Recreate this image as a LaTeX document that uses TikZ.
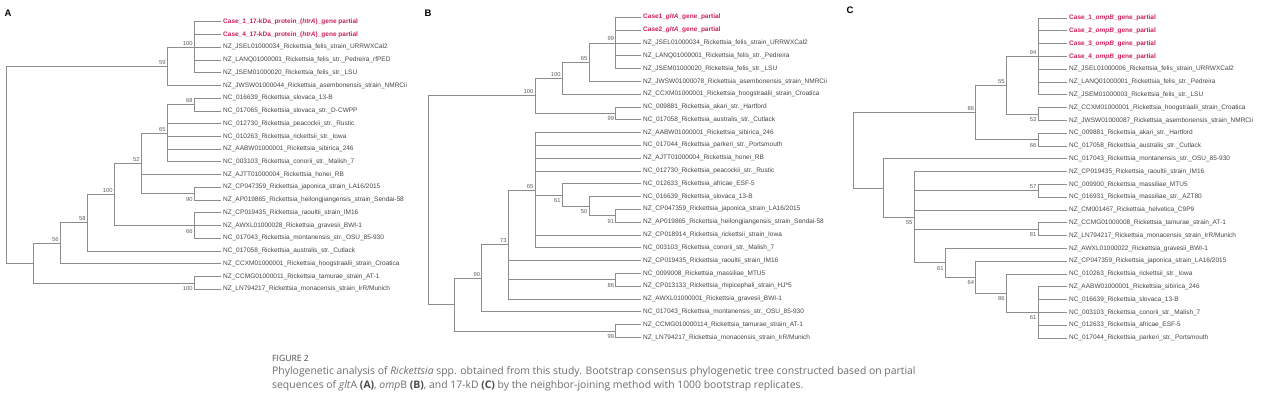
\documentclass[tikz,border=0pt]{standalone}
\usepackage{fontspec}
\setmainfont{Liberation Sans}
\newfontfamily\capfont{Open Sans}
\definecolor{casered}{RGB}{204,32,96}
\definecolor{linegray}{RGB}{140,140,140}
\definecolor{leafgray}{RGB}{70,70,70}
\definecolor{bsgray}{RGB}{95,95,95}
\definecolor{capgray}{RGB}{110,110,110}
\definecolor{capdark}{RGB}{75,75,75}
\tikzset{
  br/.style={draw=linegray, line width=0.7pt},
  leaf/.style={anchor=west, inner xsep=2.5pt, inner ysep=0pt, font=\fontsize{6.5}{7}\selectfont, text=leafgray},
  caseleaf/.style={leaf, font=\fontsize{6.5}{7}\selectfont\bfseries, text=casered},
  bs/.style={font=\fontsize{5.8}{6}\selectfont, text=bsgray, inner sep=0pt, anchor=base east, xshift=-1.5pt},
  bsa/.style={bs, yshift=2pt},
  bsb/.style={bs, yshift=-7.5pt},
  panel/.style={font=\fontsize{9.5}{10}\selectfont\bfseries, inner sep=0pt},
  captext/.style={anchor=base west, inner sep=0pt, font=\capfont\fontsize{10.4}{12}\selectfont, text=capgray}
}
\newcommand\tleaf[4]{\node[leaf] (#1) at (#2,#3) {#4};}
\newcommand\tcase[4]{\node[caseleaf] (#1) at (#2,#3) {#4};}
\newcommand\kids[2]{\foreach \kid in {#2}{\draw[br] (#1) |- (\kid.west);}}
\newcommand\bsA[3]{\node[bsa] (#1) at (#2) {#3};}
\newcommand\bsB[3]{\node[bsb] (#1) at (#2) {#3};}
\begin{document}
\begin{tikzpicture}[x=1pt,y=-1pt]
\fill[white] (0,0) rectangle (1268,403);
\useasboundingbox (0,0) rectangle (1268,403);

% ================= Panel A =================
\node[panel] (pA) at (8,13) {A};
\tcase{a1}{220.5}{21.7}{Case\_1\_17-kDa\_protein\_(\textit{htrA})\_gene partial}
\tcase{a2}{220.5}{34.44}{Case\_4\_17-kDa\_protein\_(\textit{htrA})\_gene partial}
\tleaf{a3}{220.5}{47.18}{NZ\_JSEL01000034\_Rickettsia\_felis\_strain\_URRWXCal2}
\tleaf{a4}{220.5}{59.92}{NZ\_LANQ01000001\_Rickettsia\_felis\_str.\_Pedreira\_rfPED}
\tleaf{a5}{220.5}{72.66}{NZ\_JSEM01000020\_Rickettsia\_felis\_str.\_LSU}
\tleaf{a6}{220.5}{85.4}{NZ\_JWSW01000044\_Rickettsia\_asembonensis\_strain\_NMRCii}
\tleaf{a7}{220.5}{98.14}{NC\_016639\_Rickettsia\_slovaca\_13-B}
\tleaf{a8}{220.5}{110.88}{NC\_017065\_Rickettsia\_slovaca\_str.\_D-CWPP}
\tleaf{a9}{220.5}{123.62}{NC\_012730\_Rickettsia\_peacockii\_str.\_Rustic}
\tleaf{a10}{220.5}{136.36}{NC\_010263\_Rickettsia\_rickettsii\_str.\_Iowa}
\tleaf{a11}{220.5}{149.1}{NZ\_AABW01000001\_Rickettsia\_sibirica\_246}
\tleaf{a12}{220.5}{161.84}{NC\_003103\_Rickettsia\_conorii\_str.\_Malish\_7}
\tleaf{a13}{220.5}{174.58}{NZ\_AJTT01000004\_Rickettsia\_honei\_RB}
\tleaf{a14}{220.5}{187.32}{NZ\_CP047359\_Rickettsia\_japonica\_strain\_LA16/2015}
\tleaf{a15}{220.5}{200.06}{NZ\_AP019865\_Rickettsia\_heilongjiangensis\_strain\_Sendai-58}
\tleaf{a16}{220.5}{212.8}{NZ\_CP019435\_Rickettsia\_raoultii\_strain\_IM16}
\tleaf{a17}{220.5}{225.54}{NZ\_AWXL01000028\_Rickettsia\_gravesii\_BWI-1}
\tleaf{a18}{220.5}{238.28}{NC\_017043\_Rickettsia\_montanensis\_str.\_OSU\_85-930}
\tleaf{a19}{220.5}{251.02}{NC\_017058\_Rickettsia\_australis\_str.\_Cutlack}
\tleaf{a20}{220.5}{263.76}{NZ\_CCXM01000001\_Rickettsia\_hoogstraalii\_strain\_Croatica}
\tleaf{a21}{220.5}{276.5}{NZ\_CCMG01000011\_Rickettsia\_tamurae\_strain\_AT-1}
\tleaf{a22}{220.5}{289.24}{NZ\_LN794217\_Rickettsia\_monacensis\_strain\_IrR/Munich}

\coordinate (aR) at (6.7,164.7);
\coordinate (aN59) at (167.3,66.29);
\coordinate (aN100a) at (194.3,47.18);
\coordinate (aN68) at (194.3,104.51);
\coordinate (aN65) at (167.3,133.18);
\coordinate (aN90) at (194.3,193.69);
\coordinate (aN52) at (141.3,163.43);
\coordinate (aN66) at (194.3,225.54);
\coordinate (aN100b) at (114.3,194.49);
\coordinate (aN58) at (87.3,222.75);
\coordinate (aN56) at (60.3,243.26);
\coordinate (aN100c) at (194.3,282.87);
\coordinate (aNX) at (33.3,263.06);

\kids{aR}{aN59,aNX}
\kids{aN59}{aN100a,a6}
\kids{aN100a}{a1,a2,a3,a4,a5}
\kids{aNX}{aN56,aN100c}
\kids{aN56}{aN58,a20}
\kids{aN58}{aN100b,a19}
\kids{aN100b}{aN52,aN66}
\kids{aN52}{aN65,a13,aN90}
\kids{aN65}{aN68,a9,a10,a11,a12}
\kids{aN68}{a7,a8}
\kids{aN90}{a14,a15}
\kids{aN66}{a16,a17,a18}
\kids{aN100c}{a21,a22}

\bsA{laA}{aN100a}{100}
\bsA{laB}{aN59}{59}
\bsA{laC}{aN68}{68}
\bsA{laD}{aN65}{65}
\bsA{laE}{aN52}{52}
\bsB{laF}{aN90}{90}
\bsA{laG}{aN100b}{100}
\bsB{laH}{aN66}{66}
\bsA{laI}{aN58}{58}
\bsA{laJ}{aN56}{56}
\bsB{laK}{aN100c}{100}

% ================= Panel B =================
\node[panel] (pB) at (428,13) {B};
\tcase{b1}{640.5}{17.3}{Case1\_\textit{gltA}\_gene\_partial}
\tcase{b2}{640.5}{30.1}{Case2\_\textit{gltA}\_gene\_partial}
\tleaf{b3}{640.5}{42.9}{NZ\_JSEL01000034\_Rickettsia\_felis\_strain\_URRWXCal2}
\tleaf{b4}{640.5}{55.7}{NZ\_LANQ01000001\_Rickettsia\_felis\_str.\_Pedreira}
\tleaf{b5}{640.5}{68.5}{NZ\_JSEM01000020\_Rickettsia\_felis\_str.\_LSU}
\tleaf{b6}{640.5}{81.3}{NZ\_JWSW01000078\_Rickettsia\_asembonensis\_strain\_NMRCii}
\tleaf{b7}{640.5}{94.1}{NZ\_CCXM01000001\_Rickettsia\_hoogstraalii\_strain\_Croatica}
\tleaf{b8}{640.5}{106.9}{NC\_009881\_Rickettsia\_akari\_str.\_Hartford}
\tleaf{b9}{640.5}{119.7}{NC\_017058\_Rickettsia\_australis\_str.\_Cutlack}
\tleaf{b10}{640.5}{132.5}{NZ\_AABW01000001\_Rickettsia\_sibirica\_246}
\tleaf{b11}{640.5}{145.3}{NC\_017044\_Rickettsia\_parkeri\_str.\_Portsmouth}
\tleaf{b12}{640.5}{158.1}{NZ\_AJTT01000004\_Rickettsia\_honei\_RB}
\tleaf{b13}{640.5}{170.9}{NC\_012730\_Rickettsia\_peacockii\_str.\_Rustic}
\tleaf{b14}{640.5}{183.7}{NC\_012633\_Rickettsia\_africae\_ESF-5}
\tleaf{b15}{640.5}{196.5}{NC\_016639\_Rickettsia\_slovaca\_13-B}
\tleaf{b16}{640.5}{209.3}{NZ\_CP047359\_Rickettsia\_japonica\_strain\_LA16/2015}
\tleaf{b17}{640.5}{222.1}{NZ\_AP019865\_Rickettsia\_heilongjiangensis\_strain\_Sendai-58}
\tleaf{b18}{640.5}{234.9}{NZ\_CP018914\_Rickettsia\_rickettsii\_strain\_Iowa}
\tleaf{b19}{640.5}{247.7}{NC\_003103\_Rickettsia\_conorii\_str.\_Malish\_7}
\tleaf{b20}{640.5}{260.5}{NZ\_CP019435\_Rickettsia\_raoultii\_strain\_IM16}
\tleaf{b21}{640.5}{273.3}{NC\_0099008\_Rickettsia\_massiliae\_MTU5}
\tleaf{b22}{640.5}{286.1}{NZ\_CP013133\_Rickettsia\_rhipicephali\_strain\_HJ*5}
\tleaf{b23}{640.5}{298.9}{NZ\_AWXL01000001\_Rickettsia\_gravesii\_BWI-1}
\tleaf{b24}{640.5}{311.7}{NC\_017043\_Rickettsia\_montanensis\_str.\_OSU\_85-930}
\tleaf{b25}{640.5}{324.5}{NZ\_CCMG010000114\_Rickettsia\_tamurae\_strain\_AT-1}
\tleaf{b26}{640.5}{337.3}{NZ\_LN794217\_Rickettsia\_monacensis\_strain\_IrR/Munich}

\coordinate (bR) at (428,200.1);
\coordinate (bN99a) at (615.7,42.9);
\coordinate (bN65a) at (589,62.1);
\coordinate (bN100b) at (562.3,78.1);
\coordinate (bN99b) at (615.7,113.3);
\coordinate (bN100a) at (535,95.7);
\coordinate (bN91) at (615.7,215.7);
\coordinate (bN50) at (589,206.1);
\coordinate (bN61) at (562.3,194.9);
\coordinate (bN65b) at (535,190.1);
\coordinate (bN86) at (615.7,279.7);
\coordinate (bN73) at (508.3,244.5);
\coordinate (bN90) at (481.7,278.1);
\coordinate (bN99c) at (615.7,330.9);
\coordinate (bNY) at (454.7,304.5);

\kids{bR}{bN100a,bNY}
\kids{bN100a}{bN100b,bN99b}
\kids{bN100b}{bN65a,b7}
\kids{bN65a}{bN99a,b6}
\kids{bN99a}{b1,b2,b3,b4,b5}
\kids{bN99b}{b8,b9}
\kids{bNY}{bN90,bN99c}
\kids{bN99c}{b25,b26}
\kids{bN90}{bN73,b24}
\kids{bN73}{bN65b,b20,bN86,b23}
\kids{bN86}{b21,b22}
\kids{bN65b}{b10,b11,b12,b13,bN61,b18,b19}
\kids{bN61}{b14,bN50}
\kids{bN50}{b15,bN91}
\kids{bN91}{b16,b17}

\bsA{lbA}{bN99a}{99}
\bsA{lbB}{bN65a}{65}
\bsA{lbC}{bN100b}{100}
\bsA{lbD}{bN100a}{100}
\bsB{lbE}{bN99b}{99}
\bsA{lbF}{bN65b}{65}
\bsB{lbG}{bN61}{61}
\bsB{lbH}{bN50}{50}
\bsB{lbI}{bN91}{91}
\bsA{lbJ}{bN73}{73}
\bsB{lbK}{bN86}{86}
\bsA{lbL}{bN90}{90}
\bsB{lbM}{bN99c}{99}

% ================= Panel C =================
\node[panel] (pC) at (850,10) {C};
\tcase{c1}{1066.5}{18}{Case\_1\_\textit{ompB}\_gene\_partial}
\tcase{c2}{1066.5}{30.8}{Case\_2\_\textit{ompB}\_gene\_partial}
\tcase{c3}{1066.5}{43.6}{Case\_3\_\textit{ompB}\_gene\_partial}
\tcase{c4}{1066.5}{56.4}{Case\_4\_\textit{ompB}\_gene\_partial}
\tleaf{c5}{1066.5}{69.2}{NZ\_JSEL01000006\_Rickettsia\_felis\_strain\_URRWXCal2}
\tleaf{c6}{1066.5}{82}{NZ\_LANQ01000001\_Rickettsia\_felis\_str.\_Pedreira}
\tleaf{c7}{1066.5}{94.8}{NZ\_JSEM01000003\_Rickettsia\_felis\_str.\_LSU}
\tleaf{c8}{1066.5}{107.6}{NZ\_CCXM01000001\_Rickettsia\_hoogstraalii\_strain\_Croatica}
\tleaf{c9}{1066.5}{120.4}{NZ\_JWSW01000087\_Rickettsia\_asembonensis\_strain\_NMRCii}
\tleaf{c10}{1066.5}{133.2}{NC\_009881\_Rickettsia\_akari\_str.\_Hartford}
\tleaf{c11}{1066.5}{146}{NC\_017058\_Rickettsia\_australis\_str.\_Cutlack}
\tleaf{c12}{1066.5}{158.8}{NC\_017043\_Rickettsia\_montanensis\_str.\_OSU\_85-930}
\tleaf{c13}{1066.5}{171.6}{NZ\_CP019435\_Rickettsia\_raoultii\_strain\_IM16}
\tleaf{c14}{1066.5}{184.4}{NC\_009900\_Rickettsia\_massiliae\_MTU5}
\tleaf{c15}{1066.5}{197.2}{NC\_016931\_Rickettsia\_massiliae\_str.\_AZT80}
\tleaf{c16}{1066.5}{210}{NZ\_CM001467\_Rickettsia\_helvetica\_C9P9}
\tleaf{c17}{1066.5}{222.8}{NZ\_CCMG01000008\_Rickettsia\_tamurae\_strain\_AT-1}
\tleaf{c18}{1066.5}{235.6}{NZ\_LN794217\_Rickettsia\_monacensis\_strain\_IrR/Munich}
\tleaf{c19}{1066.5}{248.4}{NZ\_AWXL01000022\_Rickettsia\_gravesii\_BWI-1}
\tleaf{c20}{1066.5}{261.2}{NZ\_CP047359\_Rickettsia\_japonica\_strain\_LA16/2015}
\tleaf{c21}{1066.5}{274}{NC\_010263\_Rickettsia\_rickettsii\_str.\_Iowa}
\tleaf{c22}{1066.5}{286.8}{NZ\_AABW01000001\_Rickettsia\_sibirica\_246}
\tleaf{c23}{1066.5}{299.6}{NC\_016639\_Rickettsia\_slovaca\_13-B}
\tleaf{c24}{1066.5}{312.4}{NC\_003103\_Rickettsia\_conorii\_str.\_Malish\_7}
\tleaf{c25}{1066.5}{325.2}{NC\_012633\_Rickettsia\_africae\_ESF-5}
\tleaf{c26}{1066.5}{338}{NC\_017044\_Rickettsia\_parkeri\_str.\_Portsmouth}

\coordinate (cR) at (853.3,150.2);
\coordinate (cN94) at (1038,56.4);
\coordinate (cN53) at (1038,114);
\coordinate (cN55a) at (1006.3,85.2);
\coordinate (cN66) at (1038,139.6);
\coordinate (cN86a) at (975.7,112.4);
\coordinate (cN57) at (1038,190.8);
\coordinate (cN81) at (1038,229.2);
\coordinate (cN61b) at (1038,312.4);
\coordinate (cN86b) at (1006.3,293.2);
\coordinate (cN64) at (975.7,277.2);
\coordinate (cN61a) at (945.3,262.8);
\coordinate (cN55b) at (914,217.2);
\coordinate (cNZ) at (883.7,188);

\kids{cR}{cN86a,cNZ}
\kids{cN86a}{cN55a,cN66}
\kids{cN55a}{cN94,cN53}
\kids{cN94}{c1,c2,c3,c4,c5,c6,c7}
\kids{cN53}{c8,c9}
\kids{cN66}{c10,c11}
\kids{cNZ}{c12,cN55b}
\kids{cN55b}{c13,cN57,c16,cN81,cN61a}
\kids{cN57}{c14,c15}
\kids{cN81}{c17,c18}
\kids{cN61a}{c19,cN64}
\kids{cN64}{c20,cN86b}
\kids{cN86b}{c21,cN61b}
\kids{cN61b}{c22,c23,c24,c25,c26}

\bsA{lcA}{cN94}{94}
\bsA{lcB}{cN55a}{55}
\bsA{lcC}{cN86a}{86}
\bsB{lcD}{cN53}{53}
\bsB{lcE}{cN66}{66}
\bsA{lcF}{cN57}{57}
\bsB{lcG}{cN55b}{55}
\bsB{lcH}{cN81}{81}
\bsB{lcI}{cN61a}{61}
\bsB{lcJ}{cN64}{64}
\bsB{lcK}{cN86b}{86}
\bsB{lcL}{cN61b}{61}

% ================= Caption =================
\node[captext, font=\capfont\fontsize{8.6}{10}\selectfont, text=capdark] (figl) at (272,361) {FIGURE 2};
\node[captext] (cap1) at (272,374.5) {Phylogenetic analysis of \textit{Rickettsia} spp. obtained from this study. Bootstrap consensus phylogenetic tree constructed based on partial};
\node[captext] (cap2) at (272,388.5) {sequences of \textit{glt}A \textcolor{capdark}{\textbf{(A)}}, \textit{omp}B \textcolor{capdark}{\textbf{(B)}}, and 17-kD \textcolor{capdark}{\textbf{(C)}} by the neighbor-joining method with 1000 bootstrap replicates.};
\end{tikzpicture}
\end{document}
